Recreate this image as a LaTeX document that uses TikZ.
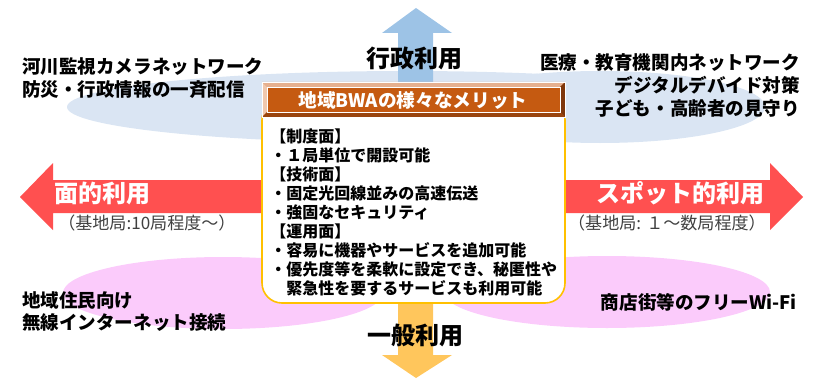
\documentclass[tikz,border=0pt]{standalone}
\usepackage{fontspec}
\setmainfont{Noto Sans CJK JP}
\definecolor{ellblue}{HTML}{DAE5F3}
\definecolor{arrblue}{HTML}{9DC3E6}
\definecolor{ellpink}{HTML}{FBCBFB}
\definecolor{arrred}{HTML}{FF5050}
\definecolor{arrorange}{HTML}{FFC65C}
\definecolor{hdrbrown}{HTML}{C55A11}
\definecolor{hdrlight}{HTML}{E6B08F}
\definecolor{hdrlighter}{HTML}{F0C8AE}
\definecolor{hdrdark}{HTML}{7F370B}
\definecolor{hdrdark2}{HTML}{9A450E}
\definecolor{boxgold}{HTML}{FFC000}
\definecolor{txtgray}{HTML}{404040}
\begin{document}
\begin{tikzpicture}[x=0.75pt,y=-0.75pt,
  sidetxt/.style={inner sep=0pt,font=\fontsize{13.9}{16}\selectfont\bfseries,text=black},
  bigtxt/.style={inner sep=0pt,font=\fontsize{18}{20}\selectfont\bfseries},
  bodytxt/.style={inner sep=0pt,anchor=base west,font=\fontsize{12}{14}\selectfont\bfseries,text=black},
  partxt/.style={inner sep=0pt,font=\fontsize{12.8}{14}\selectfont,text=txtgray}]
\useasboundingbox (0,0) rectangle (813,378);
% ellipses
\fill[ellblue] (407,107) ellipse [x radius=340, y radius=36];
\fill[ellblue] (600,107) ellipse [x radius=165, y radius=36];
\fill[ellpink] (223,293) ellipse [x radius=160, y radius=36];
\fill[ellpink] (607,292) ellipse [x radius=163, y radius=36];
% arrows
\fill[arrblue] (398,120) -- (398,33) -- (382,33) -- (416,8) -- (452,33) -- (433,33) -- (433,120) -- cycle;
\fill[arrorange] (398,280) -- (398,355) -- (382,355) -- (416,378) -- (452,355) -- (433,355) -- (433,280) -- cycle;
\fill[arrred] (280,180) -- (53,180) -- (53,163) -- (20,197) -- (53,230) -- (53,213) -- (280,213) -- cycle;
\fill[arrred] (550,180) -- (770,180) -- (770,163) -- (803,197) -- (770,230) -- (770,213) -- (550,213) -- cycle;
% arrow labels
\node[bigtxt] (gyosei) at (414,58) {行政利用};
\node[bigtxt] (ippan) at (415,335) {一般利用};
\node[bigtxt,text=white] (menteki) at (102,193) {面的利用};
\node[bigtxt,text=white] (spot) at (680,193) {スポット的利用};
\node[partxt,anchor=west] (par1) at (58,223) {（基地局:10局程度〜）};
\node[partxt,anchor=east] (par2) at (766,223) {（基地局: １〜数局程度）};
% side texts
\node[sidetxt,anchor=west] (tl1) at (22,67) {河川監視カメラネットワーク};
\node[sidetxt,anchor=west] (tl2) at (22,90) {防災・行政情報の一斉配信};
\node[sidetxt,anchor=east] (tr1) at (800,63) {医療・教育機関内ネットワーク};
\node[sidetxt,anchor=east] (tr2) at (800,85) {デジタルデバイド対策};
\node[sidetxt,anchor=east] (tr3) at (800,108) {子ども・高齢者の見守り};
\node[sidetxt,anchor=west] (bl1) at (22,300) {地域住民向け};
\node[sidetxt,anchor=west] (bl2) at (22,323) {無線インターネット接続};
\node[sidetxt,anchor=east] (br1) at (797,302) {商店街等のフリーWi-Fi};
% body box
\draw[boxgold,line width=1.2pt,fill=white,rounded corners=15pt] (262,100) rectangle (565,303);
% header with bevel
\fill[hdrbrown] (262,82) rectangle (565,117);
\fill[hdrlight] (262,82) -- (565,82) -- (560,87) -- (267,87) -- cycle;
\fill[hdrlighter] (262,82) -- (267,87) -- (267,112) -- (262,117) -- cycle;
\fill[hdrdark] (565,82) -- (565,117) -- (560,112) -- (560,87) -- cycle;
\fill[hdrdark2] (262,117) -- (565,117) -- (560,112) -- (267,112) -- cycle;
\draw[white,line width=0.4pt] (267,87) rectangle (560,112);
\draw[white,line width=0.4pt] (262,82) rectangle (565,117);
\node[inner sep=0pt,font=\fontsize{14}{16}\selectfont\bfseries,text=white] (hdr) at (413,100) {地域BWAの様々なメリット};
% body text
\foreach \t [count=\i] in {【制度面】,・１局単位で開設可能,【技術面】,・固定光回線並みの高速伝送,・強固なセキュリティ,【運用面】,・容易に機器やサービスを追加可能,・優先度等を柔軟に設定でき、秘匿性や,　緊急性を要するサービスも利用可能}
  \node[bodytxt] (b\i) at (270,{142+19.1*(\i-1)}) {\t};
\end{tikzpicture}
\end{document}
